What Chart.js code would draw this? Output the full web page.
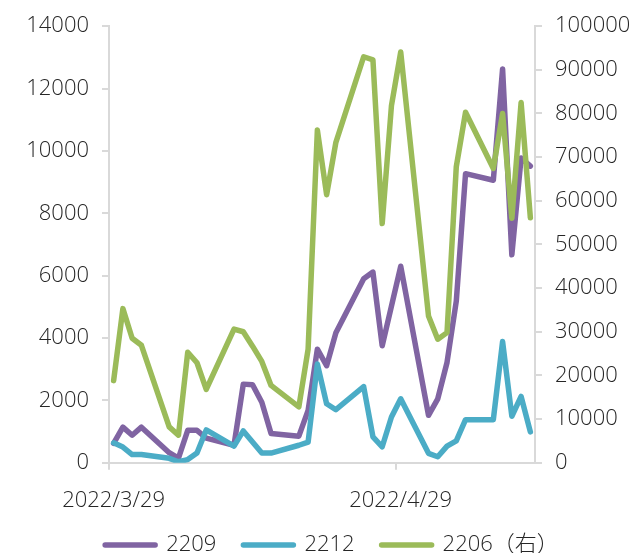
<!DOCTYPE html>
<html>
<head>
<meta charset="utf-8">
<script src="https://cdn.jsdelivr.net/npm/chart.js@4/dist/chart.umd.min.js"></script>
<style>
  html, body { margin: 0; padding: 0; background: #fff; }
  #wrap { width: 636px; height: 553px; position: relative; }
</style>
</head>
<body>
<div id="wrap"><canvas id="c" width="636" height="553"></canvas></div>
<script>
// ---- data ----
const dates = ['2022/3/29','2022/3/30','2022/3/31','2022/4/1','2022/4/4','2022/4/5','2022/4/6','2022/4/7','2022/4/8',
  '2022/4/11','2022/4/12','2022/4/13','2022/4/14','2022/4/15','2022/4/18','2022/4/19','2022/4/20','2022/4/21','2022/4/22',
  '2022/4/25','2022/4/26','2022/4/27','2022/4/28','2022/4/29','2022/5/2','2022/5/3','2022/5/4','2022/5/5','2022/5/6',
  '2022/5/9','2022/5/10','2022/5/11','2022/5/12','2022/5/13'];
const s2209 = [620, 1140, 880, 1140, 320, 150, 1040, 1040, 790, 560, 2520, 2500, 1940, 935, 850, 1680, 3640, 3110, 4170,
  5900, 6115, 3750, 5020, 6300, 1520, 2050, 3215, 5180, 9270, 9060, 12630, 6670, 9770, 9510];
const s2212 = [637, 500, 260, 260, 140, 30, 100, 310, 1050, 530, 1020, 660, 310, 310, 560, 660, 3165, 1890, 1700,
  2440, 830, 510, 1465, 2050, 300, 190, 530, 700, 1380, 1380, 3885, 1490, 2125, 990];
const s2206 = [18800, 35300, 28500, 26900, 8200, 6300, 25300, 22900, 16800, 30600, 30000, 26700, 23200, 17700, 12800, 26000,
  76200, 61400, 73400, 93000, 92300, 54800, 81800, 94100, 33600, 28300, 29800, 67800, 80300, 67400, 80000, 56000, 82500, 56100];
const seriesNames = ['2209', '2212', '2206（右）'];
const xTickLabels = ['2022/3/29', '2022/4/29'];
const axisEndDate = '2022/5/13';

// ---- helpers ----
function dayNum(s) {
  const [y, m, d] = s.split('/').map(Number);
  return Math.round((Date.UTC(y, m - 1, d) - Date.UTC(2022, 2, 29)) / 86400000);
}
const xs = dates.map(dayNum);
const pts = arr => arr.map((v, i) => ({ x: xs[i], y: v }));

const FONT = "'Open Sans', 'Noto Sans CJK SC', sans-serif";
const TXT = '#262626';
const AX = '#D9D9D9';
const colors = ['#8064A2', '#4BACC6', '#9BBB59'];
const LEG_PAD = 27;

const legendPlace = {
  id: 'legendPlace',
  beforeLayout(chart) {
    const lg = chart.legend;
    if (lg && !lg._patched) {
      const orig = lg.fit;
      lg.fit = function () { orig.call(this); this.height = 30; };
      lg._patched = true;
    }
  },
  afterLayout(chart) {
    const lg = chart.legend;
    if (!lg) return;
    lg.top = 545 - LEG_PAD - 11;
    lg.bottom = chart.height;
    lg.height = lg.bottom - lg.top;
    lg.left += 14; lg.right += 14;
  }
};

const ds = (label, data, color, axis, order) => ({
  label, data, borderColor: color, backgroundColor: color, yAxisID: axis, order,
  borderWidth: 5.5, tension: 0, pointRadius: 0, pointHoverRadius: 0,
  borderJoinStyle: 'round', borderCapStyle: 'round', fill: false
});

const tickFont = { family: FONT, size: 22, weight: '300' };

new Chart(document.getElementById('c'), {
  type: 'line',
  data: {
    datasets: [
      ds(seriesNames[0], pts(s2209), colors[0], 'yL', 3),
      ds(seriesNames[1], pts(s2212), colors[1], 'yL', 2),
      ds(seriesNames[2], pts(s2206), colors[2], 'yR', 1)
    ]
  },
  options: {
    responsive: false,
    animation: false,
    events: [],
    layout: { padding: { top: 23, left: 0, right: 0, bottom: 0 } },
    plugins: {
      tooltip: { enabled: false },
      legend: {
        position: 'bottom',
        labels: {
          font: tickFont,
          color: TXT,
          usePointStyle: true,
          pointStyleWidth: 50,
          padding: LEG_PAD,
          sort: (a, b) => a.datasetIndex - b.datasetIndex,
          generateLabels(chart) {
            const items = Chart.defaults.plugins.legend.labels.generateLabels(chart);
            items.forEach(it => {
              const d = chart.data.datasets[it.datasetIndex];
              it.pointStyle = 'line';
              it.lineWidth = 5.5;
              it.lineCap = 'round';
              it.strokeStyle = d.borderColor;
              it.fillStyle = d.borderColor;
            });
            return items;
          }
        }
      }
    },
    scales: {
      x: {
        type: 'linear',
        min: -0.5,
        max: dayNum(axisEndDate) + 0.5,
        afterBuildTicks(scale) {
          scale.ticks = xTickLabels.map(l => ({ value: dayNum(l) - 0.5 }));
        },
        afterFit(scale) { scale.height = 553 - 30 - 462.7; },
        ticks: {
          autoSkip: false,
          maxRotation: 0,
          labelOffset: 4.6,
          padding: 18,
          font: tickFont,
          color: TXT,
          callback: (v, i) => xTickLabels[i]
        },
        grid: { drawOnChartArea: false, drawTicks: true, tickLength: 7, color: AX, lineWidth: 2 },
        border: { display: true, color: AX, width: 2 }
      },
      yL: {
        type: 'linear', position: 'left', min: 0, max: 14000,
        afterFit(scale) { scale.width = 109; },
        ticks: { stepSize: 2000, padding: 13, font: tickFont, color: TXT, callback: v => String(v) },
        grid: { drawOnChartArea: false, tickLength: 7, color: AX, lineWidth: 2 },
        border: { display: true, color: AX, width: 2 }
      },
      yR: {
        type: 'linear', position: 'right', min: 0, max: 100000,
        afterFit(scale) { scale.width = 101; },
        ticks: { stepSize: 10000, padding: 13, font: tickFont, color: TXT, callback: v => String(v) },
        grid: { drawOnChartArea: false, tickLength: 7, color: AX, lineWidth: 2 },
        border: { display: true, color: AX, width: 2 }
      }
    }
  },
  plugins: [legendPlace]
});
</script>
</body>
</html>
